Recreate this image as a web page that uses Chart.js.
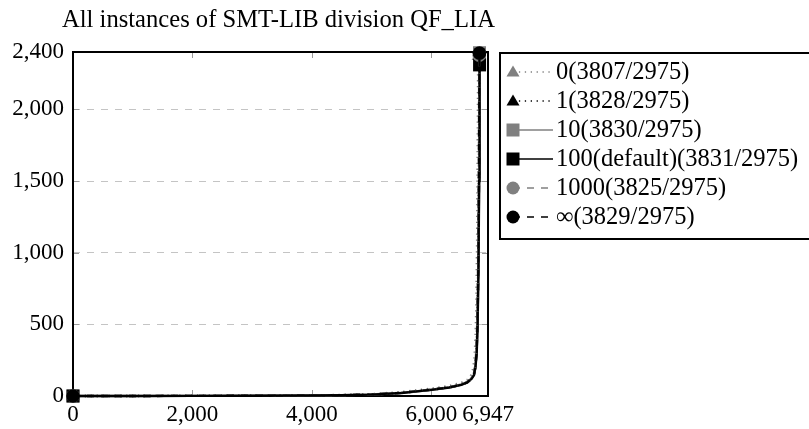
<!DOCTYPE html>
<html><head><meta charset="utf-8">
<script src="https://cdn.jsdelivr.net/npm/chart.js@4.4.1/dist/chart.umd.min.js"></script>
<style>html,body{margin:0;padding:0;background:#fff;} #wrap{width:809px;height:429px;position:relative;}</style>
</head><body><div id="wrap"><canvas id="c" width="809" height="429"></canvas></div>
<script>
const TITLE = 'All instances of SMT-LIB division QF_LIA';
const seriesLabels = ['0(3807/2975)', '1(3828/2975)', '10(3830/2975)', '100(default)(3831/2975)', '1000(3825/2975)', '\u221E(3829/2975)'];
const xTickValues = [0, 2000, 4000, 6000, 6947];
const yTickValues = [0, 500, 1000, 1500, 2000, 2400];
const xMax = 6947, yMax = 2400;

// instance rank (x) and solving time (y) per series
const x0 = [0, 1000, 2000, 3000, 4000, 4500, 5000, 5500, 6000, 6300, 6500, 6600, 6660, 6695, 6718, 6738, 6752, 6765, 6774, 6782];
const y0 = [0, 0.5, 1.2, 2.4, 4.6, 7.5, 13, 28, 52, 70, 92, 112, 140, 185, 250, 400, 650, 1100, 1700, 2370];
const x1 = [0, 1000, 2000, 3000, 4000, 4500, 5000, 5500, 6000, 6300, 6500, 6600, 6670, 6710, 6735, 6755, 6770, 6785, 6796, 6803];
const y1 = [0, 0.3, 0.9, 1.8, 3.6, 6, 10.5, 23, 46, 62, 82, 98, 125, 152, 210, 320, 520, 950, 1600, 2385];
const x2 = [0, 1000, 2000, 3000, 4000, 4500, 5000, 5500, 6000, 6300, 6500, 6600, 6672, 6712, 6736, 6757, 6772, 6787, 6798, 6805];
const y2 = [0, 0.3, 0.8, 1.7, 3.4, 5.8, 10, 22, 44, 60, 80, 96, 122, 148, 205, 310, 500, 920, 1550, 2395];
const x3 = [0, 1000, 2000, 3000, 4000, 4500, 5000, 5500, 6000, 6300, 6500, 6600, 6673, 6713, 6737, 6758, 6773, 6788, 6799, 6806];
const y3 = [0, 0.3, 0.8, 1.6, 3.3, 5.6, 9.8, 21, 43, 59, 78, 94, 120, 146, 200, 300, 490, 900, 1500, 2310];
const x4 = [0, 1000, 2000, 3000, 4000, 4500, 5000, 5500, 6000, 6300, 6500, 6600, 6668, 6708, 6733, 6752, 6768, 6782, 6793, 6800];
const y4 = [0, 0.3, 0.9, 1.8, 3.5, 6, 10.4, 22.5, 45, 61, 81, 97, 124, 150, 212, 325, 530, 960, 1620, 2378];
const x5 = [0, 1000, 2000, 3000, 4000, 4500, 5000, 5500, 6000, 6300, 6500, 6600, 6671, 6711, 6736, 6756, 6771, 6786, 6797, 6804];
const y5 = [0, 0.3, 0.8, 1.7, 3.4, 5.7, 10, 21.5, 44, 60, 79, 95, 121, 147, 204, 305, 495, 910, 1540, 2392];

const seriesX = [x0, x1, x2, x3, x4, x5];
const seriesY = [y0, y1, y2, y3, y4, y5];

// styles
const GRAY = '#808080', BLACK = '#000000';
const colors = [GRAY, BLACK, GRAY, BLACK, GRAY, BLACK];
const DOT = [1.3, 4.6], DASH = [7, 7], SOLID = [];
const dashes = [DOT, DOT, SOLID, SOLID, DASH, DASH];
const markers = ['triangle', 'triangle', 'rect', 'rect', 'circle', 'circle'];
const markerRadius = { triangle: 7.5, rect: 9.2, circle: 6.8 };
const SERIF = '"Liberation Serif", "Times New Roman", serif';

const fmt = v => Number(v).toLocaleString('en-US');

const datasets = seriesLabels.map((label, i) => {
  const xs = seriesX[i], ys = seriesY[i];
  const n = xs.length;
  return {
    label,
    data: xs.map((x, k) => ({ x, y: ys[k] })),
    borderColor: colors[i],
    backgroundColor: colors[i],
    borderWidth: 2.4,
    borderDash: dashes[i],
    pointStyle: markers[i],
    pointRadius: xs.map((_, k) => (k === 0 || k === n - 1) ? markerRadius[markers[i]] : 0),
    pointHoverRadius: 0,
    pointBorderWidth: 0,
    pointBackgroundColor: colors[i],
    pointBorderColor: colors[i],
    tension: 0,
    clip: false,
    order: seriesLabels.length - 1 - i
  };
});

function drawMarker(ctx, style, cx, cy, color) {
  ctx.save();
  ctx.fillStyle = color;
  ctx.beginPath();
  if (style === 'triangle') {
    ctx.moveTo(cx, cy - 6.5);
    ctx.lineTo(cx + 6.5, cy + 4.5);
    ctx.lineTo(cx - 6.5, cy + 4.5);
    ctx.closePath();
  } else if (style === 'rect') {
    ctx.rect(cx - 6.5, cy - 6.5, 13, 13);
  } else {
    ctx.arc(cx, cy, 6.5, 0, Math.PI * 2);
  }
  ctx.fill();
  ctx.restore();
}

const framePlugin = {
  id: 'frame',
  beforeDatasetsDraw(chart) {
    const { ctx, chartArea: a, scales: { x, y } } = chart;
    ctx.save();
    ctx.strokeStyle = '#9a9a9a';
    ctx.lineWidth = 1;
    ctx.setLineDash([]);
    const seg = (x1, y1, x2, y2) => { ctx.beginPath(); ctx.moveTo(x1, y1); ctx.lineTo(x2, y2); ctx.stroke(); };
    xTickValues.forEach(v => {
      if (v <= 0 || v >= xMax) return;
      const px = Math.round(x.getPixelForValue(v)) + 0.5;
      seg(px, a.bottom, px, a.bottom - 6);
      seg(px, a.top, px, a.top + 6);
    });
    yTickValues.forEach(v => {
      if (v <= 0 || v >= yMax) return;
      const py = Math.round(y.getPixelForValue(v)) + 0.5;
      seg(a.left, py, a.left + 6, py);
      seg(a.right, py, a.right - 6, py);
    });
    ctx.strokeStyle = '#000';
    ctx.lineWidth = 2;
    ctx.strokeRect(a.left, a.top, a.right - a.left, a.bottom - a.top);
    ctx.restore();
  },
  afterDraw(chart) {
    const ctx = chart.ctx;
    ctx.save();
    // title
    ctx.fillStyle = '#000';
    ctx.font = '24.6px ' + SERIF;
    ctx.textBaseline = 'alphabetic';
    ctx.textAlign = 'left';
    ctx.fillText(TITLE, 62, 27);
    // legend
    ctx.fillStyle = '#fff';
    ctx.fillRect(500, 53, 330, 186);
    ctx.strokeStyle = '#000';
    ctx.lineWidth = 2;
    ctx.strokeRect(500, 53, 330, 186);
    seriesLabels.forEach((label, i) => {
      const ry = 72 + i * 29;
      ctx.save();
      ctx.strokeStyle = colors[i];
      ctx.lineWidth = 1.3;
      ctx.setLineDash(dashes[i]);
      ctx.beginPath();
      ctx.moveTo(513, ry);
      ctx.lineTo(553, ry);
      ctx.stroke();
      ctx.restore();
      drawMarker(ctx, markers[i], 513, ry, colors[i]);
      ctx.fillStyle = '#000';
      ctx.font = '24.5px ' + SERIF;
      ctx.textBaseline = 'middle';
      ctx.fillText(label, 556, ry + 1);
    });
    ctx.restore();
  }
};

new Chart(document.getElementById('c'), {
  type: 'line',
  data: { datasets },
  options: {
    responsive: false,
    animation: false,
    events: [],
    layout: { padding: { top: 52, right: 321, bottom: 0, left: 0 } },
    plugins: { legend: { display: false }, title: { display: false }, tooltip: { enabled: false } },
    scales: {
      x: {
        type: 'linear',
        min: 0, max: xMax,
        afterBuildTicks: s => { s.ticks = xTickValues.map(v => ({ value: v })); },
        afterFit: s => { s.height = 33; },
        grid: { display: false, drawTicks: false },
        border: { display: false },
        ticks: {
          autoSkip: false, maxRotation: 0, padding: 5,
          color: '#000', font: { family: SERIF, size: 23 },
          callback: v => fmt(v)
        }
      },
      y: {
        type: 'linear',
        min: 0, max: yMax,
        afterBuildTicks: s => { s.ticks = yTickValues.map(v => ({ value: v })); },
        afterFit: s => { s.width = 73; },
        grid: {
          drawTicks: false,
          lineWidth: 1,
          color: c => (c.tick && (c.tick.value === 0 || c.tick.value === yMax)) ? 'rgba(0,0,0,0)' : '#c4c4c4'
        },
        border: { display: false, dash: [7, 7] },
        ticks: {
          autoSkip: false, padding: 9,
          color: '#000', font: { family: SERIF, size: 23 },
          callback: v => fmt(v)
        }
      }
    }
  },
  plugins: [framePlugin]
});
</script>
</body></html>
